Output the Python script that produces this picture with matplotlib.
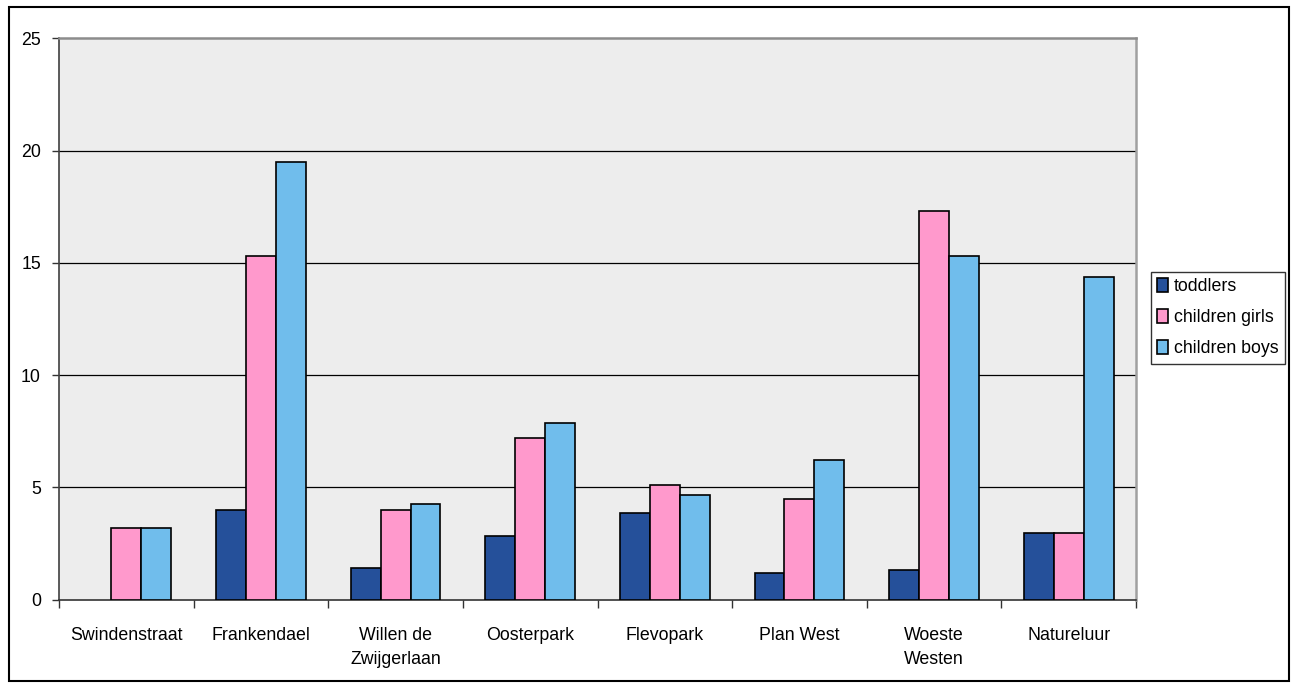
import matplotlib
matplotlib.use("Agg")
import matplotlib.pyplot as plt
from matplotlib.patches import Rectangle
import numpy as np

plt.rcParams['font.family'] = ['Liberation Sans', 'DejaVu Sans']

categories = ["Swindenstraat", "Frankendael", "Willen de\nZwijgerlaan", "Oosterpark",
              "Flevopark", "Plan West", "Woeste\nWesten", "Natureluur"]
toddlers = [0.0, 4.0, 1.4, 2.85, 3.85, 1.2, 1.3, 2.95]
children_girls = [3.2, 15.3, 4.0, 7.2, 5.1, 4.5, 17.3, 2.95]
children_boys = [3.2, 19.5, 4.27, 7.85, 4.65, 6.2, 15.3, 14.35]
series_names = ["toddlers", "children girls", "children boys"]
series_colors = ["#25509A", "#FF99CC", "#70BDEC"]
y_ticks = [0, 5, 10, 15, 20, 25]

W, H = 1292, 683
fig = plt.figure(figsize=(W / 100, H / 100), dpi=100)

# outer chart border
fig.patches.append(Rectangle((8.5 / W, 1 - 681 / H), (1289 - 8.5) / W, (681 - 6.5) / H,
                             transform=fig.transFigure, fill=False,
                             edgecolor="black", linewidth=1.5, zorder=0))

left, right, top, bottom = 59, 1136, 38.5, 599.5
ax = fig.add_axes([left / W, 1 - bottom / H, (right - left) / W, (bottom - top) / H])
ax.set_facecolor("#EDEDED")

x = np.arange(len(categories))
bw = 1 / 4.5
for i, (vals, name, col) in enumerate(zip([toddlers, children_girls, children_boys],
                                           series_names, series_colors)):
    bars = ax.bar(x + (i - 1) * bw, vals, width=bw, color=col, edgecolor="black",
                  linewidth=1.2, label=name, zorder=3)
    for b, v in zip(bars, vals):
        if v == 0:
            b.set_linewidth(0)

ax.set_xlim(-0.5, len(categories) - 0.5)
ax.set_ylim(0, 25)
ax.set_yticks(y_ticks)
ax.set_yticklabels([str(v) for v in y_ticks], fontsize=12.8)
for v in y_ticks[1:-1]:
    ax.axhline(v, color="black", linewidth=0.9, zorder=1)

ax.set_xticks(x)
ax.set_xticklabels(categories, fontsize=12.8, linespacing=1.5, va="top")
ax.tick_params(axis="x", which="major", length=0, pad=20)
ax.set_xticks(np.arange(-0.5, len(categories)), minor=True)
ax.tick_params(axis="x", which="minor", length=6, width=1, color="#333333")
ax.tick_params(axis="y", length=5, width=1, color="#333333", pad=8)

ax.spines["left"].set_color("#404040")
ax.spines["bottom"].set_color("#333333")
ax.spines["left"].set_linewidth(1.2)
ax.spines["bottom"].set_linewidth(1.2)
ax.spines["top"].set_color("#8C8C8C")
ax.spines["right"].set_color("#A0A0A0")
ax.spines["top"].set_linewidth(1.8)
ax.spines["right"].set_linewidth(1.8)

leg = fig.legend(loc="upper left", bbox_to_anchor=(1150.7 / W, 1 - 271.7 / H),
                 fontsize=12.8, frameon=True, fancybox=False, edgecolor="black",
                 handlelength=0.6, handleheight=0.8, handletextpad=0.35,
                 labelspacing=0.8, borderpad=0.35, borderaxespad=0)
leg.get_frame().set_linewidth(1.0)
for p in leg.get_patches():
    p.set_linewidth(1.2)

fig.savefig("out.png", dpi=100)
